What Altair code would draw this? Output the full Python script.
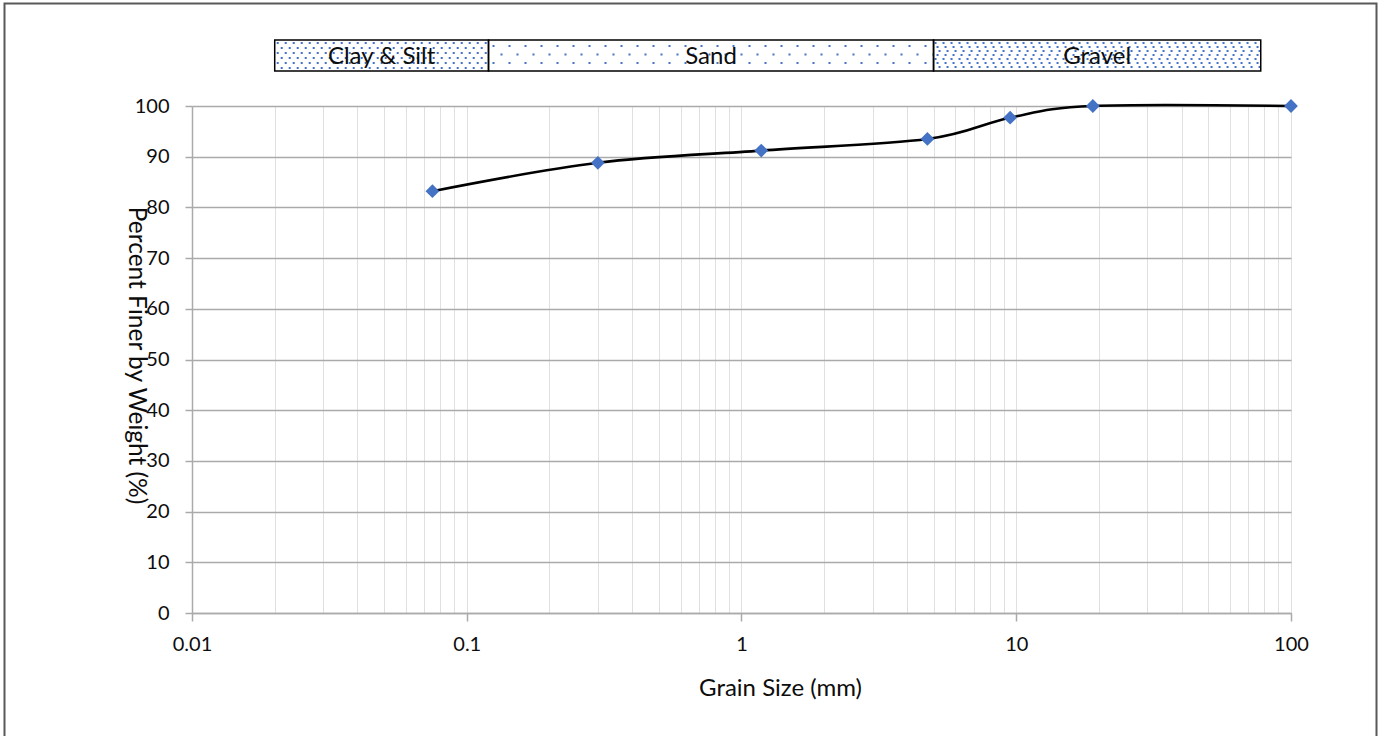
import altair as alt
import numpy as np
import pandas as pd

# Sieve analysis: grain size (mm) and percent passing
grain_size_mm = [0.075, 0.3, 1.18, 4.75, 9.5, 19, 100]
percent_finer = [83.2, 88.8, 91.2, 93.5, 97.7, 100, 100]

# Soil classification bands shown above the plot
band_names = ["Clay & Silt", "Sand", "Gravel"]
band_lower_mm = [0.02, 0.12, 5.0]
band_upper_mm = [0.12, 5.0, 77.6]

# Axis ticks
x_major_ticks = [0.01, 0.1, 1, 10, 100]
y_ticks = list(range(0, 101, 10))

FONT = "Lato"
TEXT = "#0d0d0d"
BLUE = "#4472C4"
MAJOR_GRID = "#aaaaaa"
MINOR_GRID = "#e0e0e0"

# every 1..9 multiple in each decade carries a light vertical gridline
x_grid_values = [d * m for d in x_major_ticks[:-1] for m in range(1, 10)] + [100]

is_decade = "abs(log(datum.value)/LN10 - round(log(datum.value)/LN10)) < 1e-6"

x_scale = alt.Scale(type="log", domain=[0.01, 100], nice=False)
y_scale = alt.Scale(domain=[0, 100], nice=False)

x_axis = alt.Axis(
    values=x_grid_values,
    format="~g",
    labelExpr=f"{is_decade} ? datum.label : ''",
    labelOverlap=False,
    labelFlush=False,
    labelFont=FONT,
    labelFontSize=20,
    labelColor=TEXT,
    labelPadding=13,
    grid=True,
    gridColor=MINOR_GRID,
    gridWidth=1,
    domainColor=MAJOR_GRID,
    domainWidth=1.5,
    tickColor=MAJOR_GRID,
    tickWidth=1.5,
    tickSize=8,
    tickOpacity={"condition": {"test": is_decade, "value": 1}, "value": 0},
    title="Grain Size (mm)",
    titleFont=FONT,
    titleFontSize=24,
    titleFontWeight="normal",
    titleColor=TEXT,
    titleX=588,
    titleY=75,
    titleAlign="center",
    titleBaseline="middle",
)

y_axis = alt.Axis(
    values=y_ticks,
    labelFont=FONT,
    labelFontSize=20,
    labelColor=TEXT,
    labelPadding=16,
    grid=True,
    gridColor=MAJOR_GRID,
    gridWidth=1.5,
    domainColor=MAJOR_GRID,
    domainWidth=1.5,
    tickColor=MAJOR_GRID,
    tickWidth=1.5,
    tickSize=7,
    title="Percent Finer by Weight (%)",
    titleFont=FONT,
    titleFontSize=24.5,
    titleFontWeight="normal",
    titleColor=TEXT,
    titleAngle=90,
    titleX=-57,
    titleY=249,
    titleAlign="center",
    titleBaseline="middle",
)


def xq(field):
    return alt.X(f"{field}:Q", scale=x_scale, axis=x_axis)


sieve = pd.DataFrame({"size": grain_size_mm, "finer": percent_finer})
bands = pd.DataFrame({"name": band_names, "lo": band_lower_mm, "hi": band_upper_mm})
bands["mid"] = np.sqrt(bands["lo"] * bands["hi"])

# vertical extent of the band boxes (pixels, relative to the plot top)
BOX_TOP, BOX_BOTTOM = -66, -35

curve = alt.Chart(sieve).mark_line(
    interpolate="cardinal", color="black", strokeWidth=2.6
).encode(
    x=xq("size"),
    y=alt.Y("finer:Q", scale=y_scale, axis=y_axis),
)

markers = alt.Chart(sieve).mark_point(
    shape="diamond", filled=True, size=190, color=BLUE, opacity=1, strokeWidth=0
).encode(
    x=xq("size"),
    y=alt.Y("finer:Q", scale=y_scale, axis=y_axis),
)

box_fill = alt.Chart(bands).mark_rect(fill="white").encode(
    x=xq("lo"),
    x2="hi:Q",
    y=alt.value(BOX_TOP),
    y2=alt.value(BOX_BOTTOM),
)


def dot_pattern(name, pitch, dash, offsets, inset=3):
    """Rows of dotted rules that give a band its stipple texture."""
    band = bands[bands["name"] == name].iloc[0]
    rows = np.arange(BOX_TOP + inset, BOX_BOTTOM - 1, pitch)
    layers = []
    for k, off in enumerate(offsets):
        ys = rows[k::len(offsets)]
        if len(ys) == 0:
            continue
        d = pd.DataFrame({"lo": band["lo"], "hi": band["hi"], "py": ys})
        layers.append(
            alt.Chart(d).mark_rule(
                color=BLUE, strokeWidth=2, strokeDash=dash, strokeDashOffset=off
            ).encode(
                x=xq("lo"),
                x2="hi:Q",
                y=alt.Y("py:Q", scale=None),
            )
        )
    return layers


texture = (
    dot_pattern("Clay & Silt", 5, [2, 6], [-2, -6])
    + dot_pattern("Sand", 8.5, [2, 14], [-4, -12], inset=6)
    + dot_pattern("Gravel", 4, [2, 6, 2, 6], [-1, -3, -5, -3])
)

box_outline = alt.Chart(bands).mark_rect(
    fillOpacity=0, stroke="black", strokeWidth=1.5
).encode(
    x=xq("lo"),
    x2="hi:Q",
    y=alt.value(BOX_TOP),
    y2=alt.value(BOX_BOTTOM),
)

box_labels = alt.Chart(bands).mark_text(
    font=FONT, fontSize=24, color=TEXT, baseline="middle", align="center"
).encode(
    x=xq("mid"),
    y=alt.value((BOX_TOP + BOX_BOTTOM) / 2 + 1),
    text="name:N",
)

frame = alt.Chart(pd.DataFrame({"k": [0]})).mark_rect(
    fillOpacity=0, stroke="#595959", strokeWidth=2
).encode(
    x=alt.value(-187.5),
    x2=alt.value(1184.5),
    y=alt.value(-102.5),
    y2=alt.value(660),
)

chart = (
    alt.layer(
        curve, frame, box_fill, *texture, box_outline, box_labels, markers
    )
    .properties(
        width=1099,
        height=507,
        autosize=alt.AutoSizeParams(type="none"),
        padding={"left": 192, "top": 106, "right": 90, "bottom": 123},
        background="white",
    )
    .configure_view(strokeWidth=0)
)

chart.save("out.html", embed_options={"renderer": "svg", "actions": False})
